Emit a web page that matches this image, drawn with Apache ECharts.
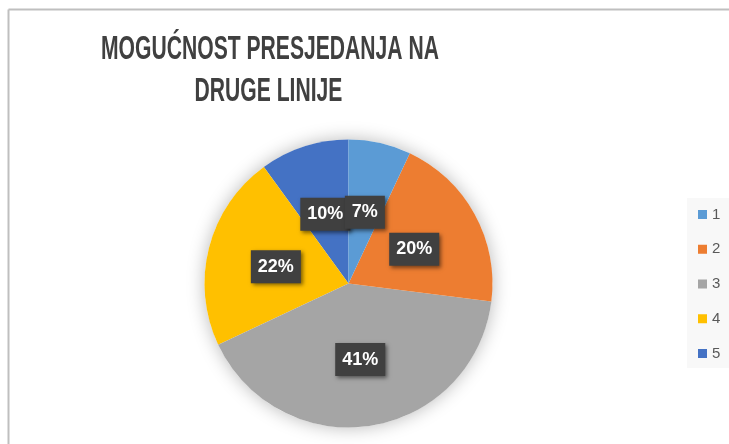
<!DOCTYPE html>
<html>
<head>
<meta charset="utf-8">
<script src="https://cdn.jsdelivr.net/npm/echarts@6/dist/echarts.min.js"></script>
<style>
html,body{margin:0;padding:0;background:#fff;}
#c{width:729px;height:444px;}
</style>
</head>
<body>
<div id="c"></div>
<script>
const categories = ['1', '2', '3', '4', '5'];
const values = [7, 20, 41, 22, 10];
const sliceColors = ['#5B9BD5', '#ED7D31', '#A5A5A5', '#FFC000', '#4472C4'];
const titleLines = ['MOGUĆNOST PRESJEDANJA NA', 'DRUGE LINIJE'];

const chart = echarts.init(document.getElementById('c'));
const titleFont = 'bold 33px "Liberation Sans", Arial, sans-serif';

// build slice items; drawn counter-clockwise in reverse order so the geometry
// matches a clockwise layout and the first slice's label sits on top
const items = categories.map((c, i) => ({ name: c, value: values[i], itemStyle: { color: sliceColors[i] } })).reverse();

chart.setOption({
  animation: false,
  backgroundColor: '#ffffff',
  graphic: [
    { type: 'line', shape: { x1: 8.5, y1: 9.5, x2: 729, y2: 9.5 }, style: { stroke: '#bfbfbf', lineWidth: 2 }, silent: true },
    { type: 'line', shape: { x1: 8.5, y1: 9.5, x2: 8.5, y2: 444 }, style: { stroke: '#bfbfbf', lineWidth: 2 }, silent: true },
    { type: 'text', x: 270, y: 50, scaleX: 0.64, style: { text: titleLines[0], x: 0, y: 0, textAlign: 'center', textVerticalAlign: 'middle', fill: '#404040', font: titleFont }, silent: true },
    { type: 'text', x: 268.5, y: 92, scaleX: 0.64, style: { text: titleLines[1], x: 0, y: 0, textAlign: 'center', textVerticalAlign: 'middle', fill: '#404040', font: titleFont }, silent: true }
  ],
  legend: {
    orient: 'vertical',
    left: 687,
    top: 198,
    padding: [9, 20, 7, 11],
    backgroundColor: '#f8f8f8',
    data: categories,
    icon: 'rect',
    itemWidth: 9,
    itemHeight: 9,
    itemGap: 19.75,
    selectedMode: false,
    textStyle: { color: '#595959', fontSize: 15, lineHeight: 15, fontFamily: '"Liberation Sans", sans-serif' }
  },
  series: [
    {
      type: 'pie',
      name: 'shadow',
      center: [348.5, 283.5],
      radius: 144,
      silent: true,
      z: 1,
      label: { show: false },
      labelLine: { show: false },
      itemStyle: { color: '#ffffff', shadowBlur: 18, shadowColor: 'rgba(0,0,0,0.28)' },
      data: [{ name: '', value: 1 }]
    },
    {
      type: 'pie',
      name: 'main',
      center: [348.5, 283.5],
      radius: 144,
      startAngle: 90,
      clockwise: false,
      z: 2,
      avoidLabelOverlap: false,
      percentPrecision: 0,
      emphasis: { disabled: true },
      itemStyle: { borderWidth: 0 },
      label: {
        show: true,
        position: 'inside',
        offset: [0, 2],
        formatter: '{d}%',
        color: '#ffffff',
        fontSize: 18,
        fontWeight: 'bold',
        fontFamily: '"Liberation Sans", sans-serif',
        backgroundColor: '#404040',
        padding: [8, 7, 7, 7],
        shadowBlur: 4,
        shadowOffsetX: 2,
        shadowOffsetY: 2,
        shadowColor: 'rgba(0,0,0,0.5)'
      },
      labelLayout: { hideOverlap: false },
      labelLine: { show: false },
      data: items
    }
  ]
});
</script>
</body>
</html>
